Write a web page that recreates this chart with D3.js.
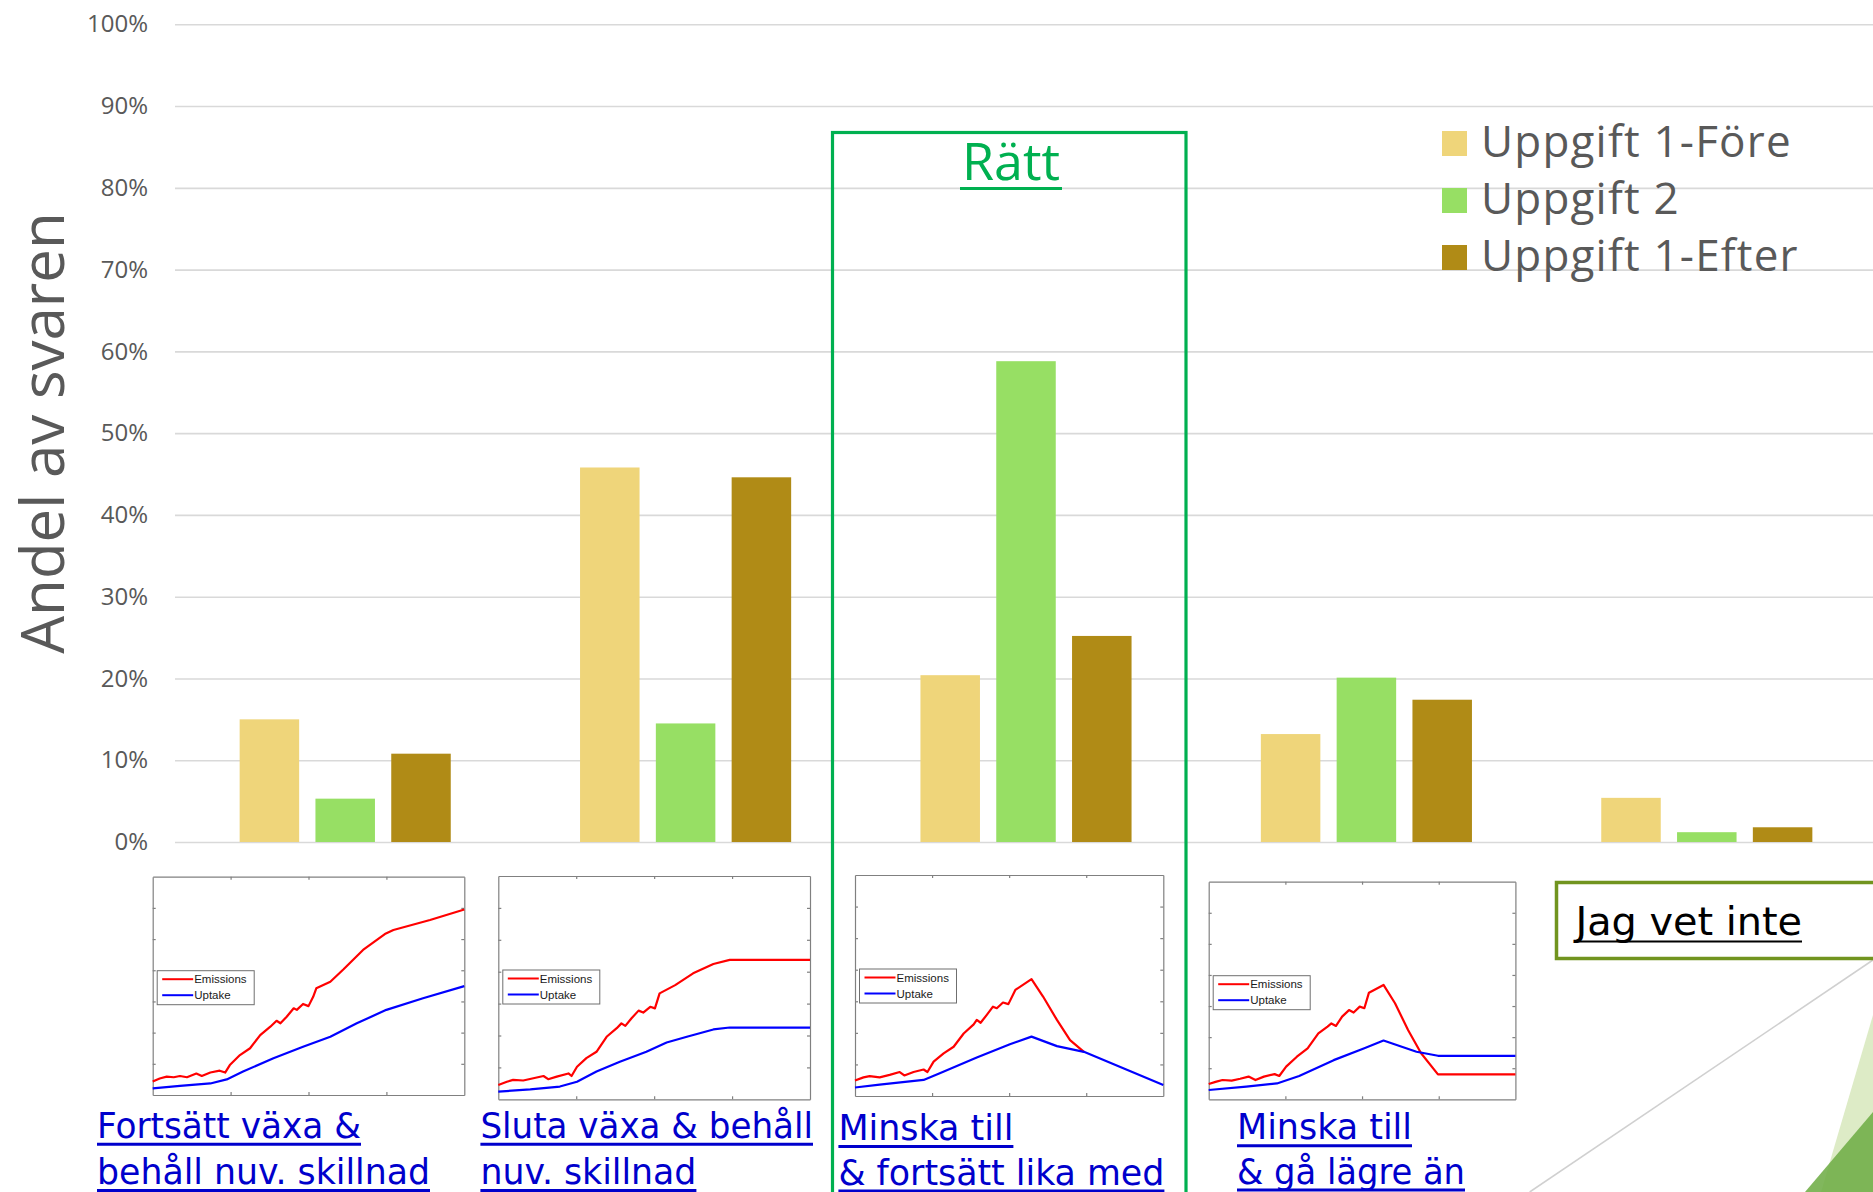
<!DOCTYPE html>
<html>
<head>
<meta charset="utf-8">
<script src="https://cdn.jsdelivr.net/npm/d3@7"></script>
<style>
  html, body { margin: 0; padding: 0; background: #ffffff; }
  svg { display: block; }
</style>
</head>
<body>
<script>
// ---- data ----------------------------------------------------------------
const categories = ["Fortsätt växa", "Sluta växa", "Minska lika med", "Minska lägre än", "Jag vet inte"];
const seriesNames = ["Uppgift 1-Före", "Uppgift 2", "Uppgift 1-Efter"];
const foreValues = [15.0, 45.8, 20.4, 13.2, 5.4];
const uppgift2Values = [5.3, 14.5, 58.8, 20.1, 1.2];
const efterValues = [10.8, 44.6, 25.2, 17.4, 1.8];
const yTicks = [0, 10, 20, 30, 40, 50, 60, 70, 80, 90, 100];

// answer captions under each scenario sketch
const captionLines = [
  ["Fortsätt växa &", "behåll nuv. skillnad"],
  ["Sluta växa & behåll", "nuv. skillnad"],
  ["Minska till", "& fortsätt lika med"],
  ["Minska till", "& gå lägre än"]
];
const unknownCaption = "Jag vet inte";
const correctCaption = "Rätt";
const sketchLegend = ["Emissions", "Uptake"];

// scenario sketches: [x, y] in sketch tick units (x 0–4, y 0–7)
const emissionsA = [[0,0.43],[0.09,0.53],[0.18,0.59],[0.27,0.57],[0.35,0.61],[0.44,0.57],[0.56,0.69],[0.63,0.61],[0.74,0.72],[0.86,0.78],[0.93,0.72],[0.99,0.96],[1.12,1.28],[1.25,1.5],[1.38,1.92],[1.51,2.19],[1.59,2.38],[1.64,2.3],[1.72,2.51],[1.81,2.78],[1.85,2.73],[1.93,2.92],[2.0,2.85],[2.06,3.15],[2.1,3.42],[2.28,3.63],[2.45,4.03],[2.7,4.65],[2.98,5.16],[3.09,5.29],[3.56,5.61],[4.0,5.95]];
const uptakeA = [[0,0.21],[0.35,0.29],[0.74,0.37],[0.95,0.5],[1.16,0.75],[1.55,1.18],[1.93,1.55],[2.28,1.87],[2.62,2.3],[3.0,2.73],[3.47,3.1],[4.0,3.49]];
const emissionsB = [[0,0.45],[0.11,0.55],[0.19,0.61],[0.32,0.59],[0.45,0.66],[0.58,0.73],[0.64,0.63],[0.75,0.71],[0.9,0.81],[0.94,0.73],[1.01,1.02],[1.13,1.29],[1.26,1.49],[1.39,1.96],[1.52,2.23],[1.58,2.38],[1.63,2.3],[1.71,2.54],[1.8,2.78],[1.86,2.72],[1.95,2.9],[2.01,2.85],[2.07,3.32],[2.27,3.58],[2.5,3.95],[2.76,4.24],[2.97,4.37],[4.0,4.37]];
const uptakeB = [[0,0.24],[0.41,0.31],[0.79,0.4],[1.01,0.55],[1.26,0.87],[1.56,1.18],[1.9,1.49],[2.16,1.78],[2.42,1.96],[2.76,2.19],[2.97,2.25],[4.0,2.25]];
const emissionsC = [[0,0.49],[0.11,0.59],[0.19,0.63],[0.32,0.59],[0.45,0.67],[0.58,0.76],[0.64,0.65],[0.76,0.76],[0.89,0.84],[0.94,0.76],[1.02,1.09],[1.15,1.35],[1.28,1.56],[1.41,1.98],[1.54,2.27],[1.58,2.41],[1.63,2.32],[1.71,2.57],[1.79,2.83],[1.84,2.78],[1.92,2.96],[1.99,2.91],[2.08,3.36],[2.29,3.7],[2.44,3.15],[2.62,2.41],[2.79,1.77],[2.97,1.4]];
const uptakeC = [[0,0.27],[0.32,0.36],[0.89,0.51],[1.1,0.72],[1.58,1.22],[2.01,1.64],[2.29,1.88],[2.62,1.58],[2.97,1.4],[4.0,0.35]];
const emissionsD = [[0,0.49],[0.1,0.57],[0.18,0.62],[0.3,0.6],[0.41,0.66],[0.52,0.73],[0.61,0.62],[0.72,0.73],[0.86,0.81],[0.92,0.75],[1.01,1.05],[1.15,1.37],[1.29,1.64],[1.43,2.12],[1.55,2.34],[1.6,2.44],[1.66,2.36],[1.74,2.66],[1.83,2.87],[1.89,2.79],[1.97,2.98],[2.03,2.93],[2.09,3.43],[2.28,3.68],[2.43,3.09],[2.6,2.23],[2.77,1.48],[2.99,0.8],[4.0,0.8]];
const uptakeD = [[0,0.3],[0.49,0.41],[0.89,0.51],[1.18,0.75],[1.63,1.26],[2.03,1.64],[2.28,1.89],[2.48,1.72],[2.71,1.53],[2.99,1.4],[4.0,1.4]];

// ---- layout & style ------------------------------------------------------
const W = 1873, H = 1192;
const plot = { left: 175, right: 1877, top: 24.3, bottom: 842 };
const colors = ["#EFD57A", "#97DF64", "#B08B16"];
const textGrey = "#595959";
const sansFont = "'Open Sans', 'Noto Sans', sans-serif";
const captionFont = "'DejaVu Sans Condensed', 'DejaVu Sans', sans-serif";
const narrowFont = "'Liberation Sans Narrow', 'DejaVu Sans Condensed', sans-serif";

const svg = d3.select("body").append("svg")
  .attr("width", W).attr("height", H)
  .attr("viewBox", `0 0 ${W} ${H}`);

// scales
const x0 = d3.scaleBand().domain(categories).range([plot.left, plot.right]).padding(0);
const x1 = d3.scaleBand().domain(seriesNames).range([-113.7, 113.7])
  .paddingInner(0.215).paddingOuter(0.1075);
const y = d3.scaleLinear().domain([0, 100]).range([plot.bottom, plot.top]);

// gridlines + tick labels via axis
const yAxis = d3.axisLeft(y)
  .tickValues(yTicks)
  .tickFormat(d => d + "%")
  .tickSize(-(W - plot.left))
  .tickPadding(27);
const gAxis = svg.append("g")
  .attr("transform", `translate(${plot.left},0)`)
  .call(yAxis);
gAxis.select(".domain").remove();
gAxis.selectAll(".tick line").attr("stroke", "#D9D9D9").attr("stroke-width", 1.6);
gAxis.selectAll(".tick text")
  .attr("fill", textGrey)
  .style("font-family", sansFont)
  .style("font-size", "24px");

// y-axis title
svg.append("text")
  .attr("transform", "translate(64,433) rotate(-90)")
  .attr("text-anchor", "middle")
  .attr("fill", textGrey)
  .style("font-family", sansFont)
  .style("font-size", "60px")
  .text("Andel av svaren");

// bars
const seriesValues = [foreValues, uppgift2Values, efterValues];
const rows = categories.map((c, i) => ({
  cat: c,
  vals: seriesNames.map((s, j) => ({ s, j, v: seriesValues[j][i] }))
}));
const groups = svg.append("g").selectAll("g").data(rows).join("g")
  .attr("transform", d => `translate(${x0(d.cat) + x0.bandwidth() / 2},0)`);
groups.selectAll("rect").data(d => d.vals).join("rect")
  .attr("x", d => x1(d.s))
  .attr("width", x1.bandwidth())
  .attr("y", d => y(d.v))
  .attr("height", d => y(0) - y(d.v))
  .attr("fill", d => colors[d.j]);

// legend
const legend = svg.append("g").attr("transform", "translate(1442,131)");
const li = legend.selectAll("g").data(seriesNames).join("g")
  .attr("transform", (d, i) => `translate(0,${i * 57})`);
li.append("rect").attr("width", 25).attr("height", 25).attr("fill", (d, i) => colors[i]);
li.append("text")
  .attr("x", 39).attr("y", 26)
  .attr("fill", textGrey)
  .style("font-family", sansFont)
  .style("font-size", "44px")
  .style("letter-spacing", "1.2px")
  .text(d => d);

// correct-answer frame
const correctBox = svg.append("g");
correctBox.append("rect")
  .attr("x", 832.5).attr("y", 132.5)
  .attr("width", 353.5).attr("height", 1200)
  .attr("fill", "none").attr("stroke", "#00B050").attr("stroke-width", 3.2);
correctBox.append("text")
  .attr("x", 1011).attr("y", 180)
  .attr("text-anchor", "middle")
  .attr("fill", "#00B050")
  .style("font-family", sansFont)
  .style("font-size", "52px")
  .text(correctCaption);
correctBox.append("line")
  .attr("x1", 960).attr("x2", 1062).attr("y1", 188.5).attr("y2", 188.5)
  .attr("stroke", "#00B050").attr("stroke-width", 3);

// scenario sketches
const sketches = [
  { frame: [152.7, 876.7, 464.3, 1095], em: emissionsA, up: uptakeA },
  { frame: [498.3, 876.0, 810.0, 1099.3], em: emissionsB, up: uptakeB },
  { frame: [855.0, 875.0, 1163.3, 1096], em: emissionsC, up: uptakeC },
  { frame: [1208.7, 881.7, 1515.4, 1099.3], em: emissionsD, up: uptakeD }
];
sketches.forEach(sk => {
  const [fx0, fy0, fx1, fy1] = sk.frame;
  const sx = d3.scaleLinear().domain([0, 4]).range([fx0, fx1]);
  const sy = d3.scaleLinear().domain([0, 7]).range([fy1, fy0]);
  const g = svg.append("g");
  g.append("rect").attr("x", fx0).attr("y", fy0).attr("width", fx1 - fx0).attr("height", fy1 - fy0)
    .attr("fill", "#ffffff");
  const axisStyle = sel => {
    sel.selectAll("path, line").attr("stroke", "#808080").attr("stroke-width", 1.2);
    sel.selectAll("text").remove();
  };
  g.append("g").attr("transform", `translate(0,${fy1})`)
    .call(d3.axisBottom(sx).tickValues([1, 2, 3]).tickSizeInner(-3).tickSizeOuter(0)).call(axisStyle);
  g.append("g").attr("transform", `translate(0,${fy0})`)
    .call(d3.axisTop(sx).tickValues([1, 2, 3]).tickSizeInner(-3).tickSizeOuter(0)).call(axisStyle);
  g.append("g").attr("transform", `translate(${fx0},0)`)
    .call(d3.axisLeft(sy).tickValues([1, 2, 3, 4, 5, 6]).tickSizeInner(-3).tickSizeOuter(0)).call(axisStyle);
  g.append("g").attr("transform", `translate(${fx1},0)`)
    .call(d3.axisRight(sy).tickValues([1, 2, 3, 4, 5, 6]).tickSizeInner(-3).tickSizeOuter(0)).call(axisStyle);

  const line = d3.line().x(d => sx(d[0])).y(d => sy(d[1]));
  g.append("path").attr("d", line(sk.em)).attr("fill", "none")
    .attr("stroke", "#FF0000").attr("stroke-width", 2.2).attr("stroke-linejoin", "round");
  g.append("path").attr("d", line(sk.up)).attr("fill", "none")
    .attr("stroke", "#0000FF").attr("stroke-width", 2.2).attr("stroke-linejoin", "round");

  // sketch legend
  const lg = g.append("g").attr("transform", `translate(${fx0 + 4.5},${fy0 + 94})`);
  lg.append("rect").attr("width", 97).attr("height", 34)
    .attr("fill", "#ffffff").attr("stroke", "#6f6f6f").attr("stroke-width", 1);
  sketchLegend.forEach((name, i) => {
    lg.append("line").attr("x1", 5).attr("x2", 36).attr("y1", 8.5 + i * 16).attr("y2", 8.5 + i * 16)
      .attr("stroke", i === 0 ? "#FF0000" : "#0000FF").attr("stroke-width", 2);
    lg.append("text").attr("x", 37).attr("y", 12.5 + i * 16)
      .attr("fill", "#1a1a1a")
      .style("font-family", "'Liberation Sans', Arial, sans-serif")
      .style("font-size", "11.5px")
      .text(name);
  });
});

// captions under sketches
const captionLayout = [
  { x: 97, base: [1137.7, 1184], width: [264, 333] },
  { x: 480.4, base: [1137.7, 1184], width: [332.6, 216] },
  { x: 838.4, base: [1140, 1184.5], width: [175, 326] },
  { x: 1237, base: [1139.3, 1183.5], width: [175, 228] }
];
captionLines.forEach((lines, i) => {
  const L = captionLayout[i];
  lines.forEach((t, k) => {
    svg.append("text")
      .attr("x", L.x).attr("y", L.base[k])
      .attr("textLength", L.width[k]).attr("lengthAdjust", "spacingAndGlyphs")
      .attr("fill", "#0000CC")
      .style("font-family", captionFont)
      .style("font-size", "35px")
      .text(t);
    svg.append("line")
      .attr("x1", L.x).attr("x2", L.x + L.width[k])
      .attr("y1", L.base[k] + 6.5).attr("y2", L.base[k] + 6.5)
      .attr("stroke", "#0000CC").attr("stroke-width", 3);
  });
});

// decorative slide corner
svg.append("line")
  .attr("x1", 1529.7).attr("y1", 1192).attr("x2", 1873).attr("y2", 960)
  .attr("stroke", "#D0D0D0").attr("stroke-width", 1.6);
svg.append("polygon")
  .attr("points", "1873,1015 1873,1192 1821,1192")
  .attr("fill", "#DDEBC6");
svg.append("polygon")
  .attr("points", "1805,1192 1873,1112 1873,1192")
  .attr("fill", "#70AD47").attr("fill-opacity", 0.88);

// "don't know" answer box
svg.append("rect")
  .attr("x", 1556.5).attr("y", 882.5).attr("width", 340).attr("height", 76)
  .attr("fill", "#ffffff").attr("stroke", "#71941F").attr("stroke-width", 3.5);
svg.append("text")
  .attr("x", 1575.5).attr("y", 935)
  .attr("textLength", 226.5).attr("lengthAdjust", "spacingAndGlyphs")
  .attr("fill", "#000000")
  .style("font-family", narrowFont)
  .style("font-size", "39px")
  .text(unknownCaption);
svg.append("line")
  .attr("x1", 1575.5).attr("x2", 1802).attr("y1", 941.5).attr("y2", 941.5)
  .attr("stroke", "#000000").attr("stroke-width", 2.2);
</script>
</body>
</html>
